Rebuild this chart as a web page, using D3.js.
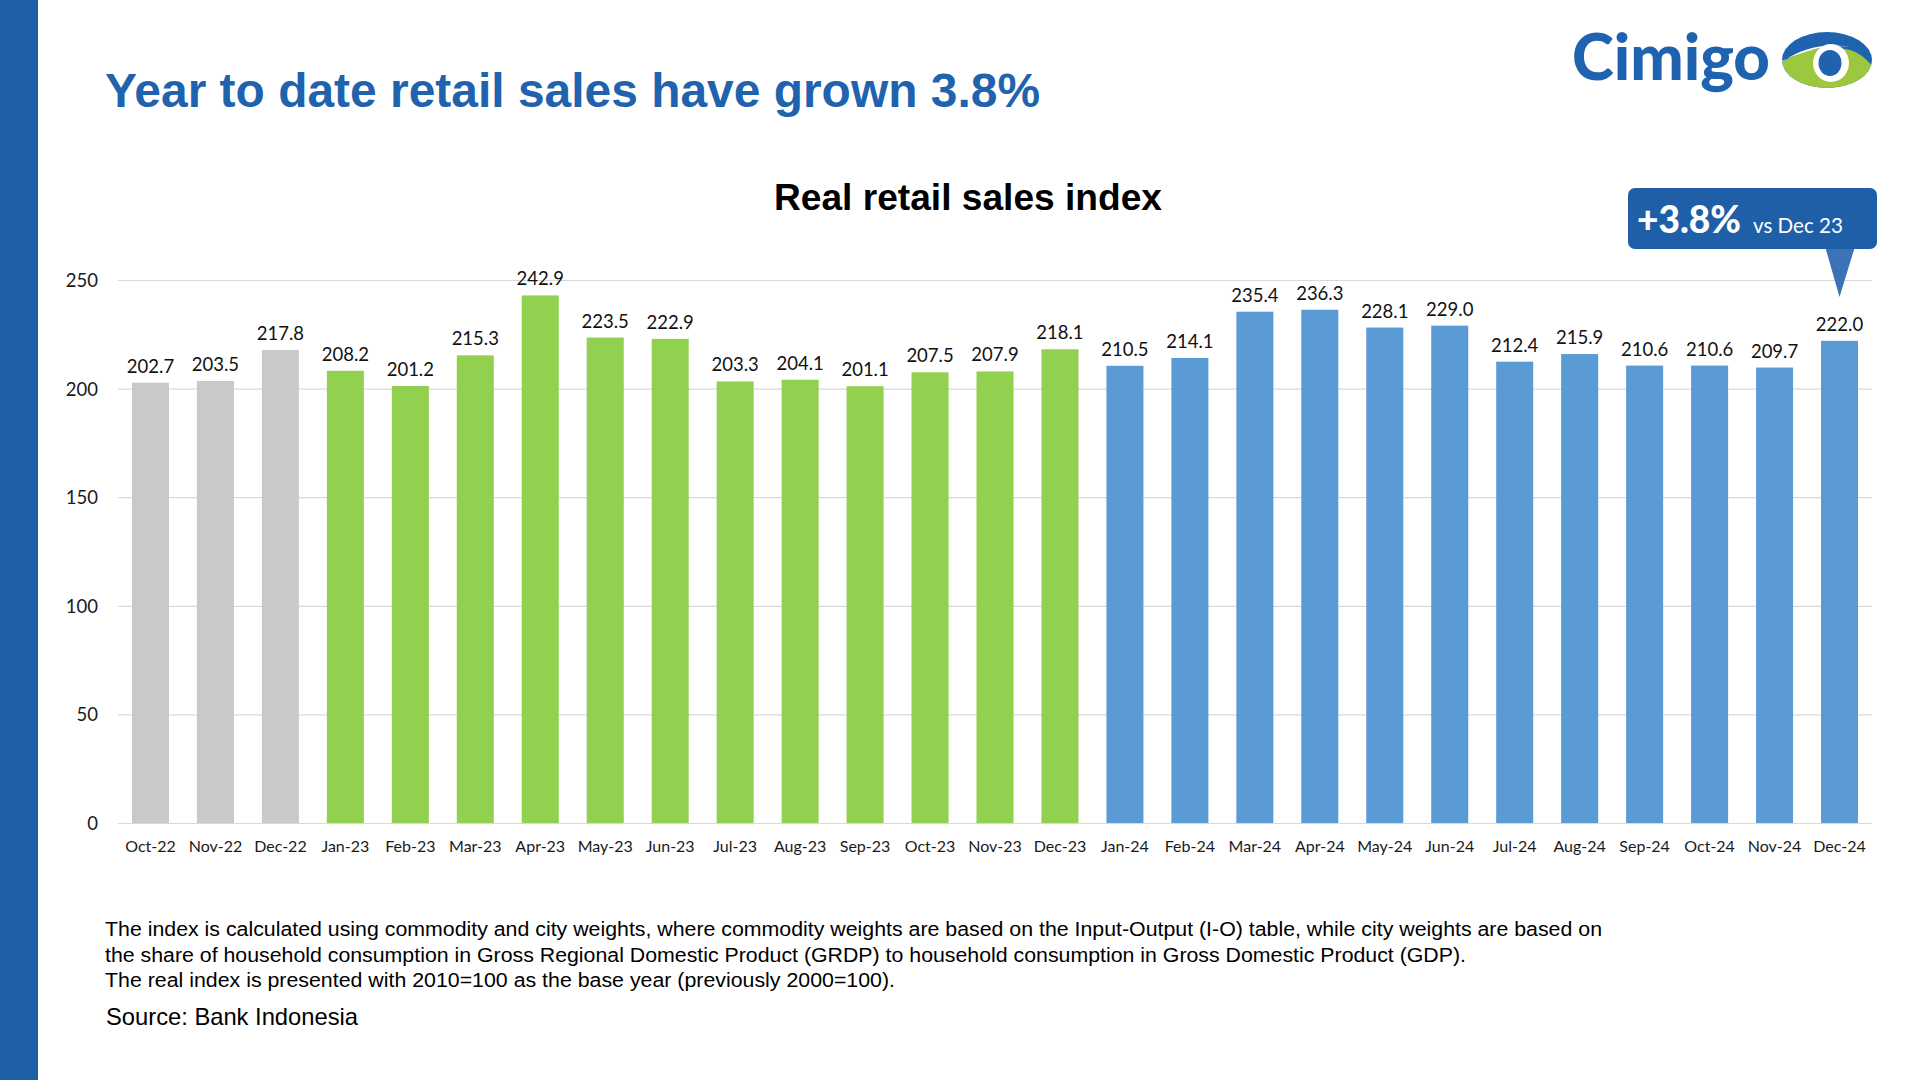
<!DOCTYPE html>
<html>
<head>
<meta charset="utf-8">
<script src="https://cdn.jsdelivr.net/npm/d3@7"></script>
<style>
html,body{margin:0;padding:0;background:#fff;}
svg{display:block;}
</style>
</head>
<body>
<svg id="chart" width="1920" height="1080"></svg>
<script>
const months = ["Oct-22","Nov-22","Dec-22","Jan-23","Feb-23","Mar-23","Apr-23","May-23","Jun-23","Jul-23","Aug-23","Sep-23","Oct-23","Nov-23","Dec-23","Jan-24","Feb-24","Mar-24","Apr-24","May-24","Jun-24","Jul-24","Aug-24","Sep-24","Oct-24","Nov-24","Dec-24"];
const values = [202.7,203.5,217.8,208.2,201.2,215.3,242.9,223.5,222.9,203.3,204.1,201.1,207.5,207.9,218.1,210.5,214.1,235.4,236.3,228.1,229.0,212.4,215.9,210.6,210.6,209.7,222.0];
const yearGroup = ["2022","2022","2022","2023","2023","2023","2023","2023","2023","2023","2023","2023","2023","2023","2023","2024","2024","2024","2024","2024","2024","2024","2024","2024","2024","2024","2024"];
const yTicks = [0,50,100,150,200,250];
const footnotes = [
  "The index is calculated using commodity and city weights, where commodity weights are based on the Input-Output (I-O) table, while city weights are based on",
  "the share of household consumption in Gross Regional Domestic Product (GRDP) to household consumption in Gross Domestic Product (GDP).",
  "The real index is presented with 2010=100 as the base year (previously 2000=100)."
];
const footWidths = [1497, 1361, 790];

const colorByYear = {"2022":"#c9c9c9","2023":"#92d050","2024":"#5b9bd5"};
const data = months.map((m,i)=>({month:m, value:values[i], year:yearGroup[i]}));

const svg = d3.select("#chart");
const numFont = "Lato, 'Open Sans', sans-serif";
const arial = "'Liberation Sans', Arial, sans-serif";

// left stripe
svg.append("rect").attr("x",0).attr("y",0).attr("width",38).attr("height",1080).attr("fill","#1f5fa8");

// main title
svg.append("text").attr("x",105).attr("y",107)
  .attr("font-family",arial).attr("font-weight","bold").attr("font-size",48)
  .attr("fill","#1f63ae").attr("textLength",935).attr("lengthAdjust","spacingAndGlyphs")
  .text("Year to date retail sales have grown 3.8%");

// chart title
svg.append("text").attr("x",968).attr("y",210).attr("text-anchor","middle")
  .attr("font-family",arial).attr("font-weight","bold").attr("font-size",36)
  .attr("fill","#000").attr("textLength",388).attr("lengthAdjust","spacingAndGlyphs")
  .text("Real retail sales index");

// scales
const x = d3.scaleBand().domain(months).range([118,1872]).paddingInner(0.43).paddingOuter(0.215);
const y = d3.scaleLinear().domain([0,250]).range([823,280]);

// gridlines
svg.append("g").selectAll("line").data(yTicks).join("line")
  .attr("x1",118).attr("x2",1872)
  .attr("y1",d=>y(d)+0.5).attr("y2",d=>y(d)+0.5)
  .attr("stroke","#d9d9d9").attr("stroke-width",1.2);

// y axis labels
const yAxis = d3.axisLeft(y).tickValues(yTicks).tickSize(0).tickPadding(0);
const gy = svg.append("g").attr("transform","translate(98,0)").call(yAxis);
gy.select(".domain").remove();
gy.selectAll("text").attr("font-family",numFont).attr("font-size",18.5).attr("fill","#1a1a1a").attr("dy","0.35em");

// x axis labels
const xAxis = d3.axisBottom(x).tickSize(0).tickPadding(0);
const gx = svg.append("g").attr("transform","translate(0,841)").call(xAxis);
gx.select(".domain").remove();
gx.selectAll("text").attr("font-family",numFont).attr("font-size",16).attr("fill","#1a1a1a").attr("dy","0.71em");

// bars
svg.append("g").selectAll("rect").data(data).join("rect")
  .attr("x",d=>x(d.month)).attr("width",x.bandwidth())
  .attr("y",d=>y(d.value)).attr("height",d=>y(0)-y(d.value))
  .attr("fill",d=>colorByYear[d.year]);

// data labels
svg.append("g").selectAll("text").data(data).join("text")
  .attr("x",d=>x(d.month)+x.bandwidth()/2).attr("y",d=>y(d.value)-10)
  .attr("text-anchor","middle").attr("font-family",numFont).attr("font-size",18.5)
  .attr("fill","#111").text(d=>d.value.toFixed(1));

// footnotes
svg.append("g").selectAll("text").data(footnotes).join("text")
  .attr("x",105).attr("y",(d,i)=>936+i*25.6)
  .attr("font-family",arial).attr("font-size",20).attr("fill","#000")
  .attr("textLength",(d,i)=>footWidths[i]).attr("lengthAdjust","spacingAndGlyphs")
  .text(d=>d);
svg.append("text").attr("x",106).attr("y",1025)
  .attr("font-family",arial).attr("font-size",24).attr("fill","#000")
  .attr("textLength",252).attr("lengthAdjust","spacingAndGlyphs")
  .text("Source: Bank Indonesia");

// callout
const last = data[data.length-1];
const cx = x(last.month)+x.bandwidth()/2;
svg.append("path")
  .attr("d",`M${cx-14},248 L${cx+15},248 L${cx},297 Z`)
  .attr("fill","#3b72b8");
svg.append("rect").attr("x",1628).attr("y",188).attr("width",249).attr("height",61).attr("rx",7)
  .attr("fill","#1f5fa8");
svg.append("text").attr("x",1637).attr("y",233)
  .attr("font-family",numFont).attr("font-weight",900).attr("font-size",38).attr("fill","#fff")
  .attr("textLength",104).attr("lengthAdjust","spacingAndGlyphs").text("+3.8%");
svg.append("text").attr("x",1753).attr("y",233)
  .attr("font-family",numFont).attr("font-size",21).attr("fill","#fff")
  .attr("textLength",90).attr("lengthAdjust","spacingAndGlyphs").text("vs Dec 23");

// logo
svg.append("text").attr("x",1572).attr("y",80)
  .attr("font-family",numFont).attr("font-weight",900).attr("font-size",64).attr("fill","#1f63b0")
  .attr("textLength",198).attr("lengthAdjust","spacingAndGlyphs").text("Cimigo");
const defs = svg.append("defs");
defs.append("clipPath").attr("id","eyeClip").append("ellipse")
  .attr("cx",1827).attr("cy",60).attr("rx",45).attr("ry",28);
const eye = svg.append("g").attr("clip-path","url(#eyeClip)");
eye.append("rect").attr("x",1780).attr("y",30).attr("width",95).attr("height",62).attr("fill","#1f63b0");
eye.append("path").attr("d","M1778,66 C1795,50 1825,44 1850,50 C1862,54 1870,62 1876,72 L1876,95 L1778,95 Z").attr("fill","#9dc73e");
eye.append("path").attr("d","M1780,64 C1800,47 1830,42 1852,48 C1840,44 1812,46 1780,62 Z").attr("fill","#fff");
svg.append("ellipse").attr("cx",1831).attr("cy",63).attr("rx",18).attr("ry",19).attr("fill","#fff");
svg.append("ellipse").attr("cx",1830).attr("cy",63).attr("rx",11.5).attr("ry",13).attr("fill","#1f63b0");
</script>
</body>
</html>
